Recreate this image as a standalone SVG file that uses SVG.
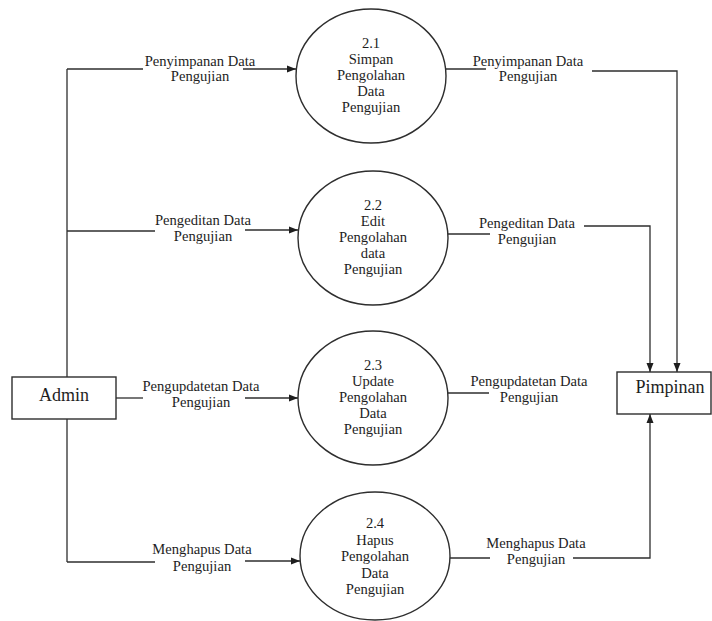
<svg xmlns="http://www.w3.org/2000/svg" width="712" height="621" viewBox="0 0 712 621">
<style>
.ln{fill:none;stroke:#2e2e2e;stroke-width:1.3}
.nd{fill:#fff;stroke:#2e2e2e;stroke-width:1.4}
.t{font-family:"Liberation Serif","Times New Roman",serif;font-size:14.6px;fill:#1e1e1e;text-anchor:middle}
.tb{font-family:"Liberation Serif","Times New Roman",serif;font-size:18px;fill:#1e1e1e;text-anchor:middle}
</style>
<defs>
<marker id="ah" markerUnits="userSpaceOnUse" markerWidth="9" markerHeight="8" refX="9" refY="4" orient="auto">
<path d="M0,0.5 L9,4 L0,7.5 z" fill="#1e1e1e"/>
</marker>
</defs>
<rect width="712" height="621" fill="#fff"/>
<g id="connectors">
<path class="ln" d="M67,69 V562"/>
<path class="ln" d="M67,69 H143"/>
<path class="ln" d="M243,69 H296" marker-end="url(#ah)"/>
<path class="ln" d="M67,231 H155"/>
<path class="ln" d="M245,230 H298" marker-end="url(#ah)"/>
<path class="ln" d="M116,398 H143"/>
<path class="ln" d="M245,398 H298" marker-end="url(#ah)"/>
<path class="ln" d="M67,562 H155"/>
<path class="ln" d="M245,561 H300" marker-end="url(#ah)"/>
<path class="ln" d="M446,69 H486"/>
<path class="ln" d="M592,71 H677 V372" marker-end="url(#ah)"/>
<path class="ln" d="M448,234 H490"/>
<path class="ln" d="M584,226 H650 V372" marker-end="url(#ah)"/>
<path class="ln" d="M448,393 H489"/>
<path class="ln" d="M450,558 H490"/>
<path class="ln" d="M573,558 H650 V414" marker-end="url(#ah)"/>
<g id="edge-labels">
<text class="t" x="200" y="66">Penyimpanan Data</text>
<text class="t" x="200" y="81">Pengujian</text>
<text class="t" x="203" y="225">Pengeditan Data</text>
<text class="t" x="203" y="241">Pengujian</text>
<text class="t" x="201" y="391">Pengupdatetan Data</text>
<text class="t" x="201" y="407">Pengujian</text>
<text class="t" x="202" y="554">Menghapus Data</text>
<text class="t" x="202" y="571">Pengujian</text>
<text class="t" x="528" y="66">Penyimpanan Data</text>
<text class="t" x="528" y="81">Pengujian</text>
<text class="t" x="527" y="228">Pengeditan Data</text>
<text class="t" x="527" y="244">Pengujian</text>
<text class="t" x="529" y="386">Pengupdatetan Data</text>
<text class="t" x="529" y="402">Pengujian</text>
<text class="t" x="536" y="548">Menghapus Data</text>
<text class="t" x="536" y="564">Pengujian</text>
</g>
</g>
<g id="admin">
<rect class="nd" x="12" y="377" width="104" height="42"/>
<text class="tb" x="64" y="401">Admin</text>
</g>
<g id="pimpinan">
<rect class="nd" x="617" y="372" width="94" height="42"/>
<text class="tb" x="670" y="393">Pimpinan</text>
</g>
<g id="p2-1">
<ellipse class="nd" cx="371" cy="76" rx="75" ry="67"/>
<text class="t" x="371" y="48">2.1</text>
<text class="t" x="371" y="64">Simpan</text>
<text class="t" x="371" y="80">Pengolahan</text>
<text class="t" x="371" y="96">Data</text>
<text class="t" x="371" y="112">Pengujian</text>
</g>
<g id="p2-2">
<ellipse class="nd" cx="373" cy="238" rx="75" ry="67"/>
<text class="t" x="373" y="210">2.2</text>
<text class="t" x="373" y="226">Edit</text>
<text class="t" x="373" y="242">Pengolahan</text>
<text class="t" x="373" y="258">data</text>
<text class="t" x="373" y="274">Pengujian</text>
</g>
<g id="p2-3">
<ellipse class="nd" cx="373" cy="398" rx="75" ry="67"/>
<text class="t" x="373" y="370">2.3</text>
<text class="t" x="373" y="386">Update</text>
<text class="t" x="373" y="402">Pengolahan</text>
<text class="t" x="373" y="418">Data</text>
<text class="t" x="373" y="434">Pengujian</text>
</g>
<g id="p2-4">
<ellipse class="nd" cx="375" cy="556" rx="75" ry="64"/>
<text class="t" x="375" y="528">2.4</text>
<text class="t" x="375" y="544.5">Hapus</text>
<text class="t" x="375" y="561">Pengolahan</text>
<text class="t" x="375" y="577.5">Data</text>
<text class="t" x="375" y="594">Pengujian</text>
</g>
</svg>
